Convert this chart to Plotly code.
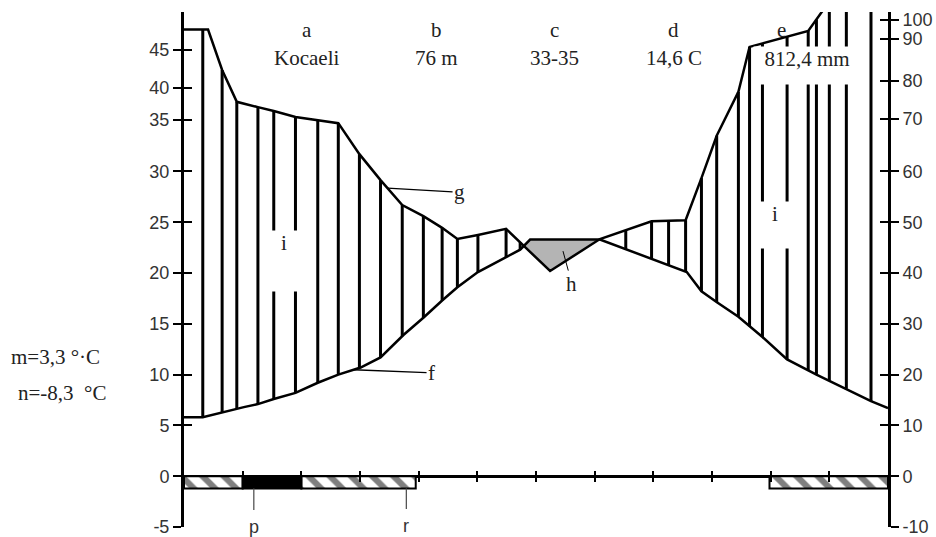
import numpy as np
import plotly.graph_objects as go

# ---------------- data ----------------
# x positions are in months from the start of January (0 .. 12)
temp_x = [0, 0.32, 1.02, 1.26, 1.53, 1.90, 2.28, 2.63, 3.01, 3.35, 3.74, 4.08, 4.40,
          4.66, 5.01, 5.73, 5.90, 7.09, 8.57, 8.82, 9.09, 9.45, 9.86, 10.28, 10.78,
          11.29, 11.71, 12.0]
temp_c = [5.8, 5.8, 6.8, 7.1, 7.6, 8.2, 9.2, 10.0, 10.7, 11.7, 13.9, 15.6, 17.3,
          18.6, 20.1, 22.3, 23.3, 23.3, 20.1, 18.2, 17.1, 15.7, 13.7, 11.5, 10.0,
          8.6, 7.4, 6.7]

prec_x = [0, 0.41, 0.65, 0.90, 1.26, 1.53, 1.90, 2.28, 2.63, 2.99, 3.35, 3.72, 4.08,
          4.40, 4.66, 5.01, 5.49, 6.24, 7.09, 7.97, 8.55, 8.82, 9.08, 9.45, 9.64,
          10.64, 11.0]
prec_mm = [95, 95, 82.6, 74.5, 73.1, 72.1, 70.5, 69.7, 69.2, 63.3, 58.3, 53.4, 51.2,
           48.9, 46.7, 47.5, 48.7, 40.4, 46.7, 50.2, 50.4, 58.7, 66.8, 77.1, 88.1,
           94.2, 110]

# axis scales as drawn (label value -> position on the common vertical scale)
left_tick_vals = [-5, 0, 5, 10, 15, 20, 25, 30, 35, 40, 45]
left_tick_pos = [-5, 0, 5, 10, 15, 20, 25, 30, 35.07, 38.2, 41.97]
right_tick_vals = [-10, 0, 10, 20, 30, 40, 50, 60, 70, 80, 90, 100]
right_tick_pos = [-5, 0, 5, 10, 15, 20, 25, 30, 35.17, 38.92, 43.05, 44.9]

# frost periods (months)
frost_black_start = [1.0]
frost_black_end = [2.0]
frost_hatch_start = [0.0, 2.0, 9.98]
frost_hatch_end = [1.0, 3.95, 12.0]

header_letters = ["a", "b", "c", "d", "e"]
header_values = ["Kocaeli", "76 m", "33-35", "14,6 C", "812,4 mm"]

# ---------------- scales ----------------
Y_RANGE = [-5, 45.7]
# precipitation axis (piecewise as drawn, extended past 100 with last slope)
slope = (right_tick_pos[-1] - right_tick_pos[-2]) / (right_tick_vals[-1] - right_tick_vals[-2])
r_vals = right_tick_vals + [right_tick_vals[-1] + 40]
r_pos = right_tick_pos + [right_tick_pos[-1] + 40 * slope]


def prec_scale(mm):
    return np.interp(mm, r_vals, r_pos)


tx = np.array(temp_x)
ty = np.array(temp_c, dtype=float)
px = np.array(prec_x)
py = prec_scale(np.array(prec_mm, dtype=float))


def T(x):
    return np.interp(x, tx, ty)


def P(x):
    return np.interp(x, px, py)


fig = go.Figure()

# ---- dry period (grey) ----
xs = np.linspace(5.0, 7.5, 1001)
dry = T(xs) > P(xs)
xd = xs[dry]
fig.add_trace(go.Scatter(
    x=np.concatenate([xd, xd[::-1]]),
    y=np.concatenate([T(xd), P(xd)[::-1]]),
    fill="toself", fillcolor="#b4b4b4", line=dict(width=0),
    mode="lines", hoverinfo="skip"))

# ---- humid period hatching (vertical lines) ----
verts = np.unique(np.round(np.concatenate([tx, px]), 2))
verts = verts[(verts > 0.1) & (verts < 11.95)]
hx = []
for v in verts:
    if not hx or v - hx[-1] > 0.12:
        hx.append(v)
hatch = []
for a, b in zip(hx[:-1], hx[1:]):
    hatch.append(a)
    n = int((b - a) // 0.5)
    for k in range(1, n + 1):
        hatch.append(a + (b - a) * k / (n + 1))
hatch.append(hx[-1])
lx, ly = [], []
for h in hatch:
    top, bot = P(h), T(h)
    if top - bot > 0.3:
        lx += [h, h, None]
        ly += [top, bot, None]
fig.add_trace(go.Scatter(x=lx, y=ly, mode="lines",
                         line=dict(color="black", width=3), hoverinfo="skip"))

# ---- curves ----
fig.add_trace(go.Scatter(x=tx, y=ty, mode="lines",
                         line=dict(color="black", width=2.5), hoverinfo="skip"))
fig.add_trace(go.Scatter(x=px, y=py, mode="lines",
                         line=dict(color="black", width=2.5), hoverinfo="skip"))

# ---- frost bars ----
BAR = -1.2
for s, e in zip(frost_hatch_start, frost_hatch_end):
    fig.add_trace(go.Bar(x=[(s + e) / 2], y=[BAR], base=[0], width=[e - s],
                         marker=dict(color="white",
                                     line=dict(color="black", width=2),
                                     pattern=dict(shape="\\", fgcolor="black",
                                                  bgcolor="white", size=15,
                                                  solidity=0.42)),
                         hoverinfo="skip"))
for s, e in zip(frost_black_start, frost_black_end):
    fig.add_trace(go.Bar(x=[(s + e) / 2], y=[BAR], base=[0], width=[e - s],
                         marker=dict(color="black", line=dict(color="black", width=2)),
                         hoverinfo="skip"))

# dummy traces so the overlay axes are drawn
for xa, ya in [("x", "y2"), ("x", "y3"), ("x", "y4"), ("x2", "y")]:
    fig.add_trace(go.Scatter(x=[0], y=[0], xaxis=xa, yaxis=ya, mode="markers",
                             marker=dict(opacity=0), hoverinfo="skip"))

# ---------------- annotations ----------------
serif = dict(family="Liberation Serif", size=21, color="#222")
sans = dict(family="Liberation Sans", size=18, color="#333")
ann = []
hdr_x = [2.09, 4.30, 6.32, 8.35, 10.18]
val_x = [2.09, 4.30, 6.32, 8.35, 10.5]
for lx_, lt in zip(hdr_x, header_letters):
    ann.append(dict(x=lx_, y=43.9, text=lt, showarrow=False, font=serif))
for i, (vx, vt) in enumerate(zip(val_x, header_values)):
    if i == 4:
        ann.append(dict(x=10.62, y=42.4, yanchor="top", text=vt, showarrow=False,
                        font=serif, bgcolor="white", width=106, height=37,
                        valign="top", borderpad=0))
    else:
        ann.append(dict(x=vx, y=41.2, text=vt, showarrow=False, font=serif))

# "i" labels with gaps in hatching
ann.append(dict(x=1.70, y=24.2, yanchor="top", text="i", showarrow=False, font=serif,
                bgcolor="white", width=32, height=60, valign="top", borderpad=0))
ann.append(dict(x=10.08, y=27.1, yanchor="top", text="i", showarrow=False, font=serif,
                bgcolor="white", width=36, height=46, valign="top", borderpad=0))

# pointer labels
gx, fx, hxp = 3.47, 2.89, 6.46
ann.append(dict(x=gx, y=float(P(gx)), text="g", ax=72, ay=4, showarrow=True,
                arrowhead=0, arrowwidth=1.3, arrowcolor="black", font=serif))
ann.append(dict(x=fx, y=float(T(fx)), text="f", ax=78, ay=3, showarrow=True,
                arrowhead=0, arrowwidth=1.3, arrowcolor="black", font=serif))
ann.append(dict(x=hxp, y=float((T(hxp) + P(hxp)) / 2), text="h", ax=9, ay=33,
                showarrow=True, arrowhead=0, arrowwidth=1, arrowcolor="black",
                font=serif))
ann.append(dict(x=1.19, y=BAR, text="p", ax=0, ay=39, showarrow=True, arrowhead=0,
                arrowwidth=1.3, arrowcolor="#555", startstandoff=6, font=sans))
ann.append(dict(x=3.79, y=BAR, text="r", ax=0, ay=38, showarrow=True, arrowhead=0,
                arrowwidth=1.3, arrowcolor="#555", startstandoff=6, font=sans))

# side texts
ann.append(dict(xref="paper", x=(8 - 183) / 706, xanchor="left", y=11.7,
                text="m=3,3 °·C", showarrow=False, font=serif))
ann.append(dict(xref="paper", x=(15 - 183) / 706, xanchor="left", y=8.2,
                text="n=-8,3  °C", showarrow=False, font=serif))

# ---------------- layout ----------------
xpos = (0 - Y_RANGE[0]) / (Y_RANGE[1] - Y_RANGE[0])
common_x = dict(range=[0, 12], tickvals=list(range(13)), showticklabels=False,
                showgrid=False, zeroline=False, showline=False, tickcolor="black",
                tickwidth=1.5, ticklen=5, anchor="free", position=xpos)
common_y = dict(range=Y_RANGE, showgrid=False, tickcolor="black", tickwidth=1.5,
                ticklen=8)

fig.update_layout(
    width=944, height=548,
    margin=dict(l=184, r=48, t=12, b=11),
    plot_bgcolor="white", paper_bgcolor="white",
    showlegend=False, barmode="overlay",
    xaxis=dict(**common_x, ticks="outside"),
    xaxis2=dict(**common_x, ticks="inside", overlaying="x"),
    yaxis=dict(**common_y, tickvals=left_tick_pos,
               ticktext=[str(v) for v in left_tick_vals], ticks="outside",
               showline=True, linewidth=3, linecolor="black",
               zeroline=True, zerolinewidth=3, zerolinecolor="black",
               tickfont=sans, side="left"),
    yaxis3=dict(**common_y, tickvals=left_tick_pos, ticks="inside",
                showticklabels=False, showline=False, zeroline=False,
                overlaying="y", side="left"),
    yaxis2=dict(**common_y, tickvals=right_tick_pos,
                ticktext=[str(v) for v in right_tick_vals], ticks="outside",
                showline=True, linewidth=3, linecolor="black", zeroline=False,
                tickfont=sans, overlaying="y", side="right"),
    yaxis4=dict(**common_y, tickvals=right_tick_pos, ticks="inside",
                showticklabels=False, showline=False, zeroline=False,
                overlaying="y", side="right"),
    annotations=ann,
)

fig.write_html("out.html", config={"displayModeBar": False},
               post_script="document.body.style.margin='0px';"
                           "document.body.style.overflow='hidden';")
